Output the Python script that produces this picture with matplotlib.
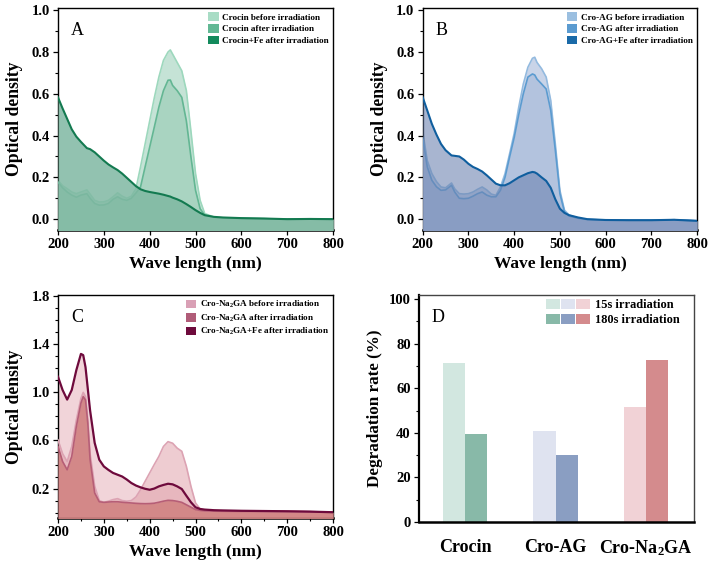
"""
UV-Vis spectra of crocin samples before/after irradiation and degradation rates.
"""

import matplotlib

matplotlib.use("Agg")
import matplotlib.pyplot as plt
from matplotlib.legend_handler import HandlerTuple
from matplotlib.patches import Patch
from matplotlib.ticker import MultipleLocator

plt.rcParams["font.family"] = ["Liberation Serif", "DejaVu Serif"]
plt.rcParams["mathtext.default"] = "regular"

# ---- panel A / B wavelength grid (nm)
wl_ab = [200, 210, 220, 230, 240, 250, 263, 270, 280, 290, 300, 310, 320, 330,
         340, 350, 360, 370, 380, 390, 400, 410, 420, 430, 440, 445, 450, 460,
         470, 480, 490, 500, 510, 520, 540, 560, 600, 650, 700, 750, 800]

crocin_before = [0.186, 0.16, 0.146, 0.13, 0.122, 0.13, 0.14, 0.12, 0.09, 0.082,
                 0.083, 0.09, 0.107, 0.126, 0.11, 0.10, 0.11, 0.146, 0.25, 0.36,
                 0.47, 0.58, 0.68, 0.76, 0.80, 0.81, 0.79, 0.75, 0.71, 0.615,
                 0.42, 0.218, 0.09, 0.027, 0.01, 0.006, 0.004, 0.002, 0.0, 0.001, 0.0]
crocin_after = [0.178, 0.15, 0.13, 0.115, 0.105, 0.115, 0.122, 0.10, 0.075, 0.067,
                0.068, 0.075, 0.095, 0.107, 0.095, 0.09, 0.10, 0.125, 0.154, 0.25,
                0.345, 0.44, 0.536, 0.615, 0.665, 0.666, 0.64, 0.615, 0.583, 0.47,
                0.297, 0.138, 0.05, 0.019, 0.008, 0.005, 0.003, 0.002, 0.0, 0.0, 0.0]
crocin_fe = [0.583, 0.53, 0.48, 0.43, 0.395, 0.37, 0.34, 0.335, 0.32, 0.30,
             0.28, 0.262, 0.248, 0.235, 0.218, 0.198, 0.178, 0.158, 0.143, 0.135,
             0.13, 0.126, 0.122, 0.117, 0.111, 0.108, 0.103, 0.095, 0.085, 0.072,
             0.058, 0.043, 0.03, 0.019, 0.011, 0.008, 0.005, 0.003, 0.0, 0.001, 0.0]

ag_before = [0.42, 0.28, 0.218, 0.18, 0.154, 0.15, 0.173, 0.145, 0.122, 0.12,
             0.122, 0.13, 0.143, 0.154, 0.14, 0.12, 0.114, 0.154, 0.218, 0.313,
             0.41, 0.536, 0.647, 0.727, 0.77, 0.775, 0.75, 0.72, 0.68, 0.568,
             0.36, 0.138, 0.043, 0.02, 0.005, -0.002, -0.004, -0.005, -0.005, -0.003, -0.008]
ag_after = [0.39, 0.25, 0.186, 0.155, 0.138, 0.14, 0.162, 0.13, 0.10, 0.098,
            0.10, 0.11, 0.122, 0.13, 0.115, 0.107, 0.107, 0.138, 0.20, 0.297,
            0.39, 0.50, 0.60, 0.68, 0.695, 0.69, 0.67, 0.647, 0.623, 0.52,
            0.33, 0.122, 0.035, 0.015, 0.004, -0.002, -0.004, -0.005, -0.005, -0.003, -0.008]
ag_fe = [0.583, 0.52, 0.456, 0.405, 0.36, 0.33, 0.305, 0.303, 0.30, 0.285,
         0.265, 0.25, 0.24, 0.228, 0.21, 0.19, 0.17, 0.162, 0.162, 0.172,
         0.186, 0.20, 0.21, 0.22, 0.226, 0.224, 0.218, 0.20, 0.183, 0.15,
         0.095, 0.05, 0.03, 0.019, 0.008, 0.0, -0.004, -0.005, -0.005, -0.003, -0.008]

# ---- panel C wavelength grid (nm)
wl_c = [200, 210, 220, 230, 240, 250, 255, 260, 265, 270, 280, 290, 300, 310,
        320, 330, 340, 350, 360, 370, 380, 390, 400, 410, 420, 430, 440, 450,
        460, 470, 480, 490, 500, 510, 520, 540, 560, 600, 650, 700, 750, 800]

na_before = [0.605, 0.49, 0.425, 0.55, 0.77, 0.95, 1.0, 0.965, 0.77, 0.49,
             0.22, 0.10, 0.085, 0.095, 0.108, 0.116, 0.10, 0.095, 0.10, 0.13,
             0.19, 0.26, 0.33, 0.40, 0.467, 0.55, 0.59, 0.577, 0.536, 0.51,
             0.384, 0.218, 0.08, 0.03, 0.02, 0.015, 0.013, 0.012, 0.011, 0.01, 0.008, 0.003]
na_after = [0.55, 0.425, 0.356, 0.467, 0.716, 0.91, 0.965, 0.937, 0.743, 0.44,
            0.163, 0.09, 0.085, 0.088, 0.09, 0.09, 0.086, 0.083, 0.08, 0.077,
            0.075, 0.074, 0.075, 0.078, 0.086, 0.095, 0.102, 0.10, 0.094, 0.085,
            0.065, 0.045, 0.025, 0.018, 0.014, 0.012, 0.011, 0.01, 0.01, 0.009, 0.007, 0.003]
na_fe = [1.13, 1.02, 0.94, 1.02, 1.185, 1.32, 1.31, 1.21, 1.03, 0.85,
         0.58, 0.44, 0.384, 0.355, 0.33, 0.315, 0.30, 0.275, 0.246, 0.225,
         0.21, 0.198, 0.19, 0.20, 0.218, 0.23, 0.24, 0.235, 0.218, 0.196,
         0.14, 0.086, 0.044, 0.03, 0.025, 0.02, 0.018, 0.015, 0.013, 0.011, 0.008, 0.003]

# ---- panel D degradation rate (%)
samples = ["Crocin", "Cro-AG", "Cro-Na$_2$GA"]
rate_15s = [71.3, 40.9, 51.8]
rate_180s = [39.7, 29.9, 72.7]
colors_15s = ["#d2e7e0", "#dfe3f0", "#f1d2d6"]
colors_180s = ["#88b9a8", "#8a9ec2", "#d48b8d"]

LEGEND_KW = dict(loc="upper right", frameon=False,
                 prop={"size": 6.6, "weight": "bold"}, handlelength=1.15,
                 handleheight=1.1, handletextpad=0.4, labelspacing=0.25,
                 borderaxespad=0.25, borderpad=0.2)


def style_axes(ax):
    for side in ["top", "right", "left"]:
        ax.spines[side].set_linewidth(1.0)
    ax.spines["bottom"].set_linewidth(1.8)
    ax.tick_params(axis="both", which="major", direction="out", length=3.5,
                   width=0.9, labelsize=10.5, pad=2.5)
    ax.tick_params(axis="both", which="minor", direction="out", length=2,
                   width=0.8)
    for lab in ax.get_xticklabels() + ax.get_yticklabels():
        lab.set_fontweight("bold")


def plot_spectra(ax, wl, series, order, letter, ylim, yticks, ymin_step, xminor=None):
    # series: (label, values, line color, line width, fill color, fill alpha, legend color, line zorder)
    handles = {}
    for i, (label, vals, lc, lw, fc, fa, legc, lz) in enumerate(series):
        ax.fill_between(wl, vals, -1, color=fc, alpha=fa, lw=0, zorder=1 + 2 * i)
        ax.plot(wl, vals, color=lc, lw=lw, zorder=lz)
        handles[label] = Patch(facecolor=legc, edgecolor="none", label=label)
    ax.set_xlim(200, 800)
    ax.set_ylim(*ylim)
    ax.set_yticks(yticks)
    ax.yaxis.set_minor_locator(MultipleLocator(ymin_step))
    ax.xaxis.set_major_locator(MultipleLocator(100))
    if xminor:
        ax.xaxis.set_minor_locator(MultipleLocator(xminor))
    ax.set_xlabel("Wave length (nm)", fontsize=12.5, fontweight="bold", labelpad=3)
    ax.set_ylabel("Optical density", fontsize=12.7, fontweight="bold", labelpad=6)
    ax.text(0.07, 0.9, letter, transform=ax.transAxes, fontsize=13,
            ha="center", va="center")
    ax.legend(handles=[handles[k] for k in order], **LEGEND_KW)
    style_axes(ax)


fig = plt.figure(figsize=(7.09, 5.66), dpi=100)
ax_a = fig.add_axes([0.0818, 0.5936, 0.388, 0.3924])
ax_b = fig.add_axes([0.5962, 0.5936, 0.387, 0.3924])
ax_c = fig.add_axes([0.0818, 0.0848, 0.388, 0.394])
ax_d = fig.add_axes([0.591, 0.0777, 0.388, 0.401])

labels_a = ["Crocin before irradiation", "Crocin after irradiation",
            "Crocin+Fe after irradiation"]
plot_spectra(
    ax_a, wl_ab,
    [(labels_a[0], crocin_before, "#9dd8bd", 1.2, "#c5e3d6", 1.0, "#a8dcc5", 2),
     (labels_a[1], crocin_after, "#63b693", 1.2, "#a9d4c1", 1.0, "#62b894", 4),
     (labels_a[2], crocin_fe, "#137a50", 1.5, "#7fb8a2", 0.85, "#138a5c", 8)],
    labels_a, "A", (-0.052, 1.011), [0.0, 0.2, 0.4, 0.6, 0.8, 1.0], 0.1)

labels_b = ["Cro-AG before irradiation", "Cro-AG after irradiation",
            "Cro-AG+Fe after irradiation"]
plot_spectra(
    ax_b, wl_ab,
    [(labels_b[0], ag_before, "#93badf", 1.2, "#c9d4e8", 1.0, "#9bbfe0", 2),
     (labels_b[1], ag_after, "#5b9bd0", 1.2, "#b3c3de", 1.0, "#5b9bd0", 4),
     (labels_b[2], ag_fe, "#0f5e9e", 1.5, "#6e85b1", 0.6, "#1a6aa8", 8)],
    labels_b, "B", (-0.052, 1.011), [0.0, 0.2, 0.4, 0.6, 0.8, 1.0], 0.1)

labels_c = ["Cro-Na$_2$GA before irradiation", "Cro-Na$_2$GA after irradiation",
            "Cro-Na$_2$GA+Fe after irradiation"]
plot_spectra(
    ax_c, wl_c,
    [(labels_c[2], na_fe, "#6e0a3c", 1.6, "#e5abb5", 0.5, "#6e0a3c", 9),
     (labels_c[0], na_before, "#dca3b3", 1.2, "#df9ba5", 0.5, "#d9a0b5", 7),
     (labels_c[1], na_after, "#b65e76", 1.2, "#d0807f", 0.85, "#b05c78", 8)],
    labels_c, "C", (-0.045, 1.81), [0.2, 0.6, 1.0, 1.4, 1.8], 0.1, xminor=50)

# ---- panel D
x = list(range(len(samples)))
w = 0.245
ax_d.bar([i - w / 2 for i in x], rate_15s, width=w, color=colors_15s)
ax_d.bar([i + w / 2 for i in x], rate_180s, width=w, color=colors_180s)
ax_d.set_xlim(-0.51, 2.53)
ax_d.set_ylim(0, 101.8)
ax_d.set_yticks(range(0, 101, 20))
ax_d.yaxis.set_minor_locator(MultipleLocator(10))
ax_d.set_xticks(x)
ax_d.set_xticklabels(samples)
ax_d.set_ylabel("Degradation rate (%)", fontsize=12.3, fontweight="bold", labelpad=4)
ax_d.text(0.07, 0.9, "D", transform=ax_d.transAxes, fontsize=13,
          ha="center", va="center")
style_axes(ax_d)
ax_d.spines["left"].set_linewidth(1.6)
ax_d.spines["top"].set_color("#444444")
ax_d.spines["right"].set_color("#444444")
ax_d.tick_params(axis="x", length=0, labelsize=13, pad=12)
for lab in ax_d.get_xticklabels():
    lab.set_fontweight("bold")

h15 = tuple(Patch(facecolor=c, edgecolor="none") for c in colors_15s)
h180 = tuple(Patch(facecolor=c, edgecolor="none") for c in colors_180s)
ax_d.legend([h15, h180], ["15s irradiation", "180s irradiation"],
            handler_map={tuple: HandlerTuple(ndivide=None, pad=0.15)},
            loc="upper right", bbox_to_anchor=(0.962, 1.0), frameon=False,
            prop={"size": 8.9, "weight": "bold"}, handlelength=3.5,
            handleheight=0.9, handletextpad=0.45, labelspacing=0.2,
            borderaxespad=0.1, borderpad=0.2)

fig.savefig("out.png", dpi=100)
